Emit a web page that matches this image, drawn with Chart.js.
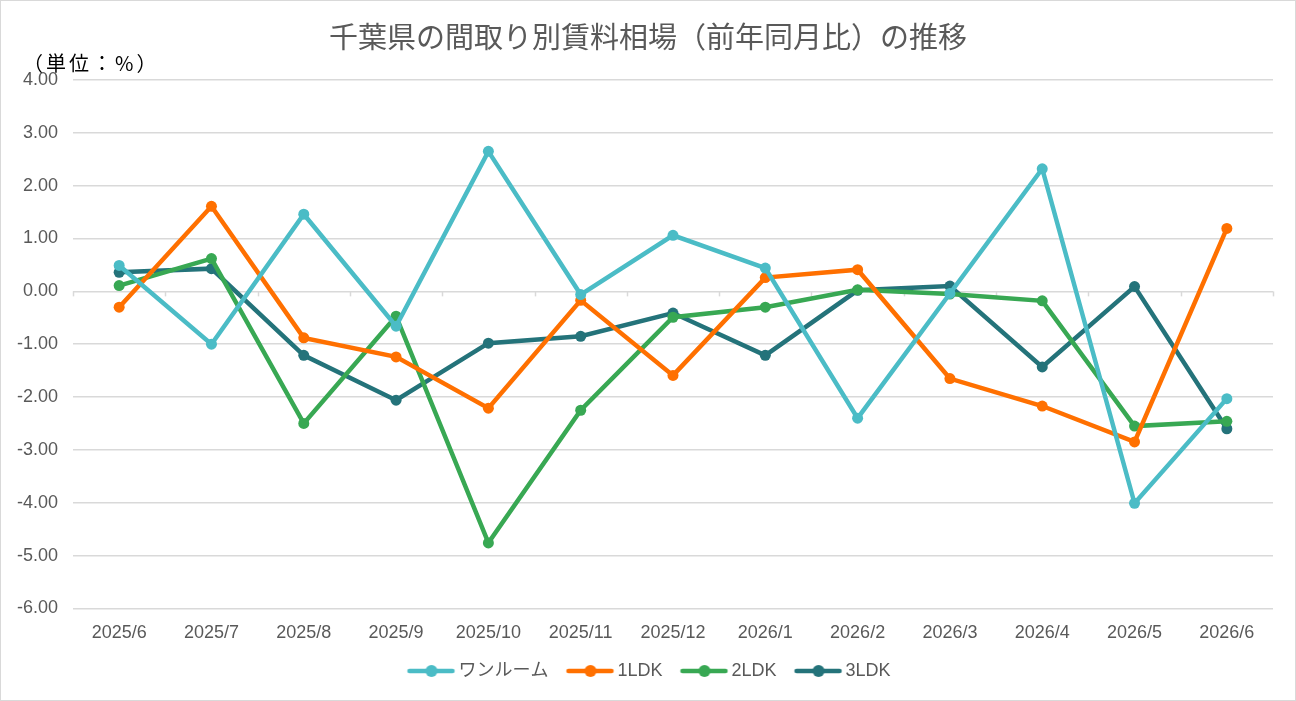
<!DOCTYPE html>
<html lang="ja">
<head>
<meta charset="utf-8">
<script src="https://cdn.jsdelivr.net/npm/chart.js@4.4.1/dist/chart.umd.min.js"></script>
<style>
  html, body { margin: 0; padding: 0; background: #fff; }
  #wrap { position: relative; width: 1296px; height: 701px; box-sizing: border-box; border: 1px solid #d9d9d9; }
  canvas { display: block; }
</style>
</head>
<body>
<div id="wrap"><canvas id="chart"></canvas></div>
<script>
// 月別カテゴリ
const months = ['2025/6', '2025/7', '2025/8', '2025/9', '2025/10', '2025/11', '2025/12',
                '2026/1', '2026/2', '2026/3', '2026/4', '2026/5', '2026/6'];

// 前年同月比（%）
const oneRoom = [0.49, -1.00, 1.46, -0.66, 2.65, -0.06, 1.06, 0.44, -2.40, -0.04, 2.32, -4.01, -2.03];
const ldk1    = [-0.30, 1.61, -0.88, -1.24, -2.21, -0.17, -1.59, 0.26, 0.41, -1.65, -2.17, -2.85, 1.19];
const ldk2    = [0.11, 0.62, -2.50, -0.47, -4.76, -2.25, -0.49, -0.30, 0.03, -0.05, -0.18, -2.55, -2.46];
const ldk3    = [0.36, 0.43, -1.21, -2.06, -0.98, -0.85, -0.41, -1.21, 0.02, 0.10, -1.43, 0.09, -2.60];

const seriesNames = ['ワンルーム', '1LDK', '2LDK', '3LDK'];
const yTicks = [4, 3, 2, 1, 0, -1, -2, -3, -4, -5, -6];

const titleText = '千葉県の間取り別賃料相場（前年同月比）の推移';
const unitText = '（単位：%）';

const colors = ['#4bbcc6', '#ff7000', '#38a853', '#24737a'];
const fontFamily = '"Liberation Sans", Arial, "Noto Sans CJK JP", sans-serif';
const gridColor = '#d9d9d9';

// 凡例用のマーカー（線＋丸）
function legendMarker(color) {
    const c = document.createElement('canvas');
    c.width = 52; c.height = 14;
    const g = c.getContext('2d');
    g.strokeStyle = color; g.lineWidth = 4.5; g.lineCap = 'round';
    g.beginPath(); g.moveTo(4, 7); g.lineTo(47, 7); g.stroke();
    g.fillStyle = color;
    g.beginPath(); g.arc(26, 7, 6, 0, Math.PI * 2); g.fill();
    return c;
}

const makeSet = (label, data, color) => ({
    label: label,
    data: data,
    borderColor: color,
    backgroundColor: color,
    borderWidth: 4.5,
    pointRadius: 5.5,
    pointHoverRadius: 6,
    pointBackgroundColor: color,
    pointBorderWidth: 0,
    tension: 0
});

// タイトル・単位ラベル・ゼロ線上の目盛り
const extras = {
    id: 'extras',
    afterLayout(chart) {
        // 凡例の位置を微調整（中央寄せ・少し上へ）
        const lg = chart.legend;
        if (lg) { lg.top -= 12; lg.bottom -= 12; lg.left += 10; lg.right += 10; }
    },
    beforeDatasetsDraw(chart) {
        const { ctx, scales: { x, y } } = chart;
        const y0 = y.getPixelForValue(0);
        const step = x.getPixelForValue(1) - x.getPixelForValue(0);
        ctx.save();
        ctx.strokeStyle = gridColor;
        ctx.lineWidth = 1.5;
        for (let i = 0; i <= months.length; i++) {
            const px = Math.round(x.getPixelForValue(i) - step / 2) + 0.5;
            ctx.beginPath(); ctx.moveTo(px, y0); ctx.lineTo(px, y0 + 5); ctx.stroke();
        }
        ctx.restore();
    },
    afterDraw(chart) {
        const { ctx } = chart;
        ctx.save();
        ctx.textBaseline = 'middle';
        ctx.fillStyle = '#595959';
        ctx.font = '29px "Noto Sans CJK JP", sans-serif';
        ctx.textAlign = 'center';
        ctx.fillText(titleText, chart.width / 2, 36);
        ctx.fillStyle = '#000';
        ctx.font = '20px "Noto Sans CJK JP", sans-serif';
        ctx.letterSpacing = '3px';
        ctx.textAlign = 'left';
        ctx.fillText(unitText, 22, 62);
        ctx.restore();
    }
};

new Chart(document.getElementById('chart'), {
    type: 'line',
    data: {
        labels: months,
        datasets: [
            makeSet(seriesNames[0], oneRoom, colors[0]),
            makeSet(seriesNames[1], ldk1, colors[1]),
            makeSet(seriesNames[2], ldk2, colors[2]),
            makeSet(seriesNames[3], ldk3, colors[3])
        ]
    },
    options: {
        responsive: true,
        maintainAspectRatio: false,
        animation: false,
        devicePixelRatio: 1,
        layout: { padding: { left: 10, right: 22, top: 79, bottom: -2 } },
        plugins: {
            title: { display: false },
            legend: {
                position: 'bottom',
                labels: {
                    color: '#595959',
                    font: { family: fontFamily, size: 18 },
                    usePointStyle: true,
                    pointStyleWidth: 36,
                    boxHeight: 12,
                    padding: 24,
                    generateLabels: (chart) => chart.data.datasets.map((ds, i) => ({
                        text: ds.label,
                        fillStyle: colors[i],
                        strokeStyle: colors[i],
                        pointStyle: legendMarker(colors[i]),
                        fontColor: '#595959',
                        lineWidth: 0,
                        datasetIndex: i,
                        hidden: !chart.isDatasetVisible(i)
                    }))
                }
            },
            tooltip: { enabled: false }
        },
        scales: {
            x: {
                offset: true,
                grid: { display: false },
                border: { display: false },
                ticks: {
                    color: '#595959',
                    font: { family: fontFamily, size: 18 },
                    padding: 6,
                    maxRotation: 0,
                    autoSkip: false
                }
            },
            y: {
                min: -6,
                max: 4,
                afterBuildTicks: (axis) => { axis.ticks = yTicks.map(v => ({ value: v })); },
                afterFit: (axis) => { axis.width = 62; },
                grid: { color: gridColor, lineWidth: 1.5, drawTicks: false },
                border: { display: false },
                ticks: {
                    color: '#595959',
                    font: { family: fontFamily, size: 18 },
                    padding: 15,
                    callback: (v) => Number(v).toFixed(2)
                }
            }
        }
    },
    plugins: [extras]
});
</script>
</body>
</html>
